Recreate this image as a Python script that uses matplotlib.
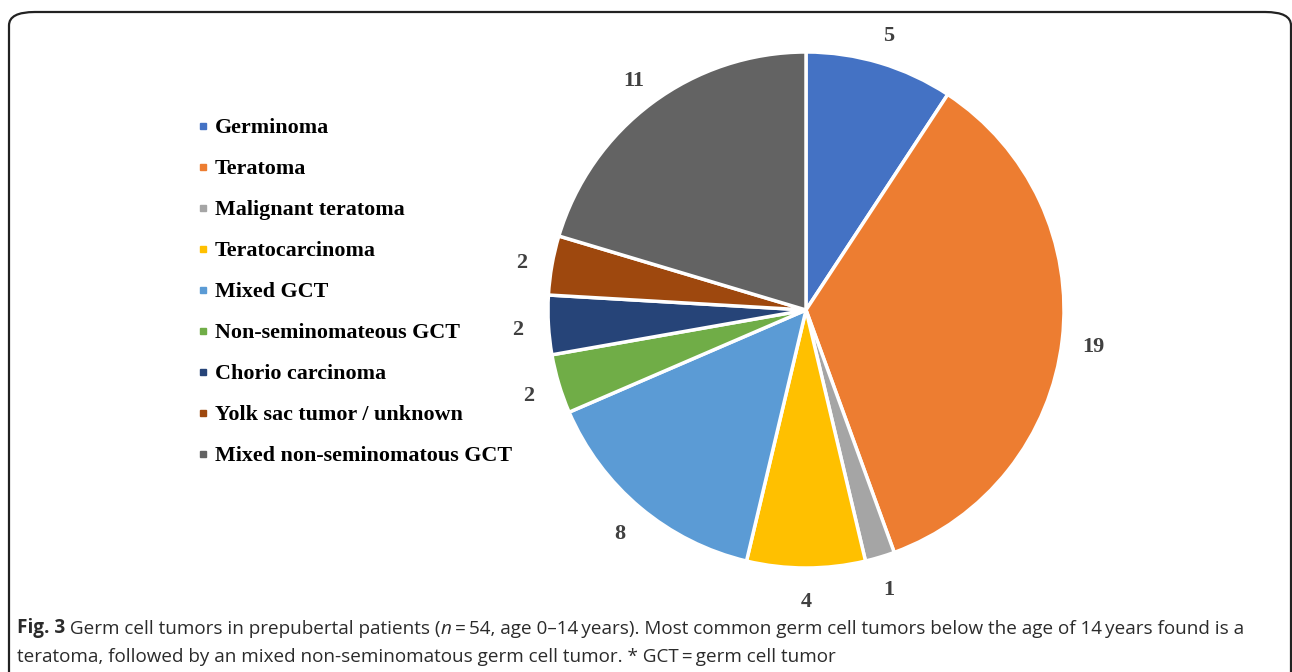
import matplotlib
matplotlib.use("Agg")
import matplotlib.pyplot as plt
from matplotlib.lines import Line2D
from matplotlib.patches import FancyBboxPatch

categories = ["Germinoma", "Teratoma", "Malignant teratoma", "Teratocarcinoma",
              "Mixed GCT", "Non-seminomateous GCT", "Chorio carcinoma",
              "Yolk sac tumor / unknown", "Mixed non-seminomatous GCT"]
values = [5, 19, 1, 4, 8, 2, 2, 2, 11]
colors = ["#4472C4", "#ED7D31", "#A5A5A5", "#FFC000", "#5B9BD5",
          "#70AD47", "#264478", "#9E480E", "#636363"]

W, H = 1292, 672
fig = plt.figure(figsize=(W / 100, H / 100), dpi=100)
fig.patch.set_facecolor("white")

# outer rounded frame
frame = FancyBboxPatch((9 / W, 1 - 690 / H), (1291 - 9) / W, (690 - 12) / H,
                       boxstyle="round,pad=0,rounding_size=0.02",
                       transform=fig.transFigure, fill=False,
                       edgecolor="#222222", linewidth=1.6, clip_on=False)
fig.patches.append(frame)

# pie
cx, cy, r = 806, 310, 258
ax = fig.add_axes([(cx - r) / W, (H - cy - r) / H, 2 * r / W, 2 * r / H])
wedges, texts = ax.pie(values, labels=[str(v) for v in values], colors=colors,
                       startangle=90, counterclock=False, labeldistance=1.12,
                       wedgeprops=dict(edgecolor="white", linewidth=2.5),
                       textprops=dict(family="Liberation Serif", weight="bold",
                                      fontsize=16, color="#404040"))
for t in texts:
    t.set_ha("center")
    t.set_va("center")
    x, y = t.get_position()
    t.set_position((x, y - 3.0 / r))
ax.set_xlim(-1, 1)
ax.set_ylim(-1, 1)
ax.set_aspect("equal")
ax.axis("off")

# legend
handles = [Line2D([], [], marker="s", linestyle="none", markersize=5,
                  markerfacecolor=c, markeredgecolor=c) for c in colors]
leg = fig.legend(handles, categories, loc="upper left",
                 bbox_to_anchor=(196 / W, 1 - 118 / H), frameon=False,
                 prop=dict(family="Liberation Serif", weight="bold", size=15.8),
                 handlelength=0.6, handletextpad=0.25, labelspacing=0.94,
                 borderpad=0, borderaxespad=0)

# caption (chained text pieces)
cap_color = "#2b2b2b"
cap_font = "Open Sans"
cfs = 13.6


def chain(prev, s, **kw):
    return plt.annotate(
        s, xy=(1, 0), xycoords=prev, va="bottom", ha="left",
        fontsize=cfs, family=cap_font, color=cap_color, annotation_clip=False, **kw)


t1 = fig.text(17 / W, 1 - 638 / H, "Fig. 3", fontsize=cfs, family=cap_font,
              weight="bold", color=cap_color, va="bottom", ha="left")
p = chain(t1, " Germ cell tumors in prepubertal patients (")
p = chain(p, "n", style="italic")
p = chain(p, "\u2009=\u200954, age 0\u201314\u2009years). Most common germ cell tumors below the age of 14\u2009years found is a")
fig.text(17 / W, 1 - 666 / H,
         "teratoma, followed by an mixed non-seminomatous germ cell tumor. * GCT\u2009=\u2009germ cell tumor",
         fontsize=cfs, family=cap_font, color=cap_color, va="bottom", ha="left")

fig.savefig("out.png", dpi=100, facecolor="white")
